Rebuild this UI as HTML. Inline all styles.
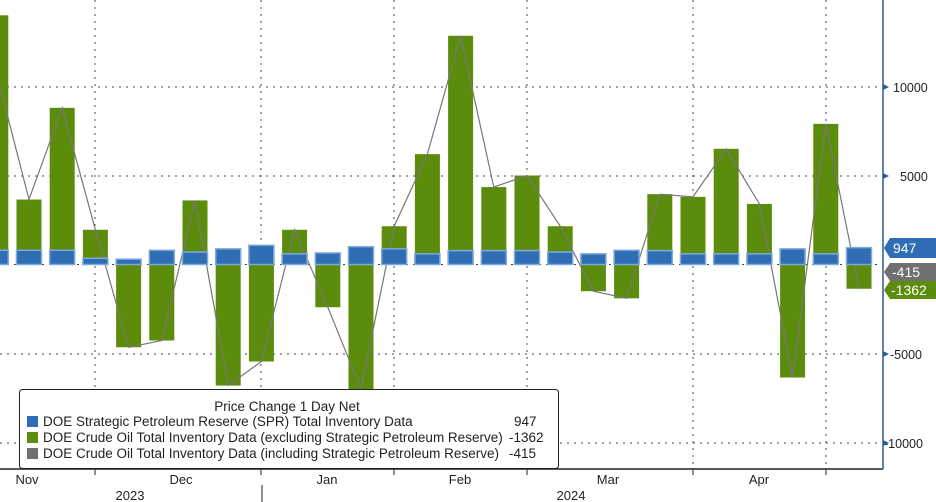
<!DOCTYPE html>
<html><head><meta charset="utf-8"><style>
html,body{margin:0;padding:0;background:#fff;}
body{width:936px;height:502px;overflow:hidden;position:relative;font-family:"Liberation Sans","DejaVu Sans",sans-serif;}
svg{position:absolute;left:0;top:0;}
</style></head><body>
<svg id="c" width="936" height="502" xmlns="http://www.w3.org/2000/svg">
<g id="grid" stroke="#444" stroke-width="1" stroke-dasharray="2,5"></g>
<g id="bars"></g>
<polyline id="line" fill="none" stroke="#777" stroke-width="1.2"/>
<g id="blue"></g>
<line x1="0" y1="469" x2="883" y2="469" stroke="#222" stroke-width="1.5"/>
<line x1="883" y1="0" x2="883" y2="469" stroke="#2a5a99" stroke-width="1.5"/>
<g stroke="#222" stroke-width="1">
<line x1="95" y1="469" x2="95" y2="475"/><line x1="261" y1="469" x2="261" y2="475"/>
<line x1="394" y1="469" x2="394" y2="475"/><line x1="527" y1="469" x2="527" y2="475"/>
<line x1="693" y1="469" x2="693" y2="475"/><line x1="826" y1="469" x2="826" y2="475"/>
<line x1="262" y1="485" x2="262" y2="502"/>
</g>
<g font-size="13" fill="#222" text-anchor="middle">
<text x="27" y="484">Nov</text><text x="181" y="484">Dec</text><text x="327" y="484">Jan</text>
<text x="460" y="484">Feb</text><text x="608" y="484">Mar</text><text x="759" y="484">Apr</text>
<text x="130" y="500">2023</text><text x="571" y="500">2024</text>
</g>
<g font-size="12.5" fill="#222">
<text x="893" y="92">10000</text><text x="900" y="181">5000</text>
<text x="890" y="359">-5000</text><text x="884" y="448">-10000</text>
</g>
<g fill="#2a5a99">
<polygon points="883,84 889,87 883,90"/><polygon points="883,173 889,176 883,179"/>
<polygon points="883,351 889,354 883,357"/><polygon points="883,440 889,443 883,446"/>
</g>
<polygon points="884,248 890,238 936,238 936,258 890,258" fill="#2f6db5"/>
<text x="893" y="253" font-size="14" fill="#fff">947</text>
<polygon points="884,272 890,263 936,263 936,281 890,281" fill="#707070"/>
<text x="892" y="277" font-size="14" fill="#fff">-415</text>
<polygon points="884,290 890,281 936,281 936,299 890,299" fill="#5b8c0c"/>
<text x="891" y="295" font-size="14" fill="#fff">-1362</text>
<rect x="19.5" y="389.5" width="539" height="79" rx="3" fill="#fff" stroke="#222" stroke-width="1"/>
<text x="287" y="411" font-size="13.5" fill="#222" text-anchor="middle">Price Change 1 Day Net</text>
<rect x="27" y="416" width="11" height="11" fill="#2f6db5"/>
<rect x="27" y="432" width="11" height="11" fill="#5b8c0c"/>
<rect x="27" y="448" width="11" height="11" fill="#707070"/>
<g font-size="13.5" fill="#222">
<text x="43" y="426">DOE Strategic Petroleum Reserve (SPR) Total Inventory Data</text>
<text x="514" y="426">947</text>
<text x="43" y="442">DOE Crude Oil Total Inventory Data (excluding Strategic Petroleum Reserve)</text>
<text x="509" y="442">-1362</text>
<text x="43" y="458">DOE Crude Oil Total Inventory Data (including Strategic Petroleum Reserve)</text>
<text x="509" y="458">-415</text>
</g>
</svg>
<script>
(function(){
var ns="http://www.w3.org/2000/svg";
function el(t,a,p){var e=document.createElementNS(ns,t);for(var k in a)e.setAttribute(k,a[k]);document.getElementById(p).appendChild(e);return e;}
var y0=264.5,s=0.0178;function Y(v){return y0-v*s;}
[87,176,264.5,354,443].forEach(function(y){el('line',{x1:0,y1:y,x2:882,y2:y},'grid');});
[95,261,394,527,693,826].forEach(function(x){el('line',{x1:x,y1:0,x2:x,y2:469},'grid');});
var g=[14000,3650,8800,1950,-4650,-4270,3600,-6800,-5450,1950,-2400,-7000,2150,6200,12850,4350,5000,2150,-1500,-1900,3950,3800,6500,3400,-6350,7900,-1362];
var b=[800,800,800,350,300,800,700,880,1080,600,650,1000,880,600,780,780,780,700,600,800,780,600,600,600,880,600,947];
var pts=[];
for(var i=0;i<g.length;i++){
 var cx=-4.2+33.2*i,x=cx-12.5;
 var ya=Y(g[i]),yb=y0;var top=Math.min(ya,yb),h=Math.abs(ya-yb);
 el('rect',{x:x,y:top,width:25,height:h,fill:'#5b8c0c'},'bars');
 el('rect',{x:x,y:Y(b[i]),width:25,height:y0-Y(b[i]),fill:'#2f6db5',stroke:'#7fa9dc','stroke-width':1.5},'blue');
 var t=g[i]; if(i==0)t=10000;
 pts.push((i==0?0:cx)+','+Y(t).toFixed(1));
}
document.getElementById('line').setAttribute('points',pts.join(' '));
})();
</script>
</body></html>
